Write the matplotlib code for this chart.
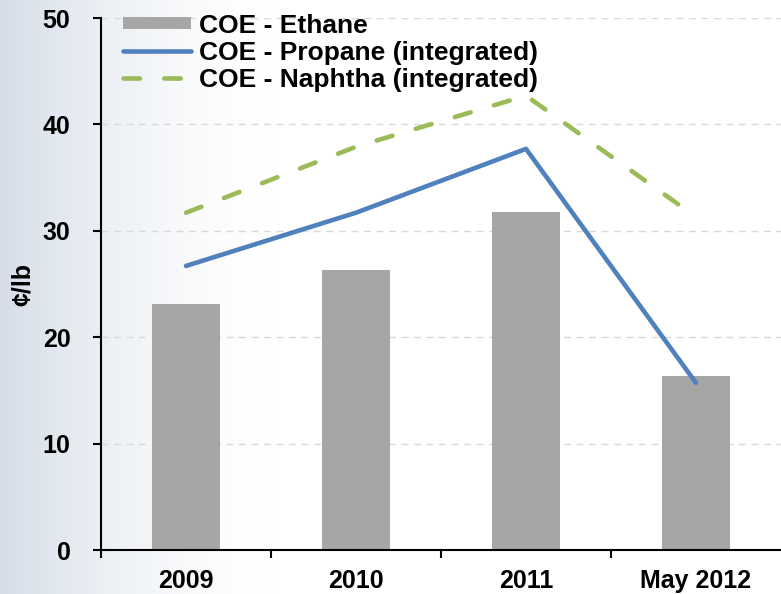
import numpy as np
import matplotlib
matplotlib.use("Agg")
import matplotlib.pyplot as plt
from matplotlib.lines import Line2D

plt.rcParams['font.family'] = ['Liberation Sans', 'DejaVu Sans']
plt.rcParams['font.weight'] = 'bold'

categories = ['2009', '2010', '2011', 'May 2012']
ethane = [23.1, 26.3, 31.8, 16.4]
propane = [26.7, 31.7, 37.7, 15.7]
naphtha = [31.7, 37.9, 42.7, 31.3]

fig = plt.figure(figsize=(7.81, 5.94), dpi=100)

# soft background fading from left
bg = fig.add_axes([0, 0, 1, 1], zorder=-10)
w = np.linspace(0, 1, 400)
fade = np.clip(1 - w / 0.35, 0, 1) ** 1.6
img = np.ones((10, 400, 3))
base = np.array([0.84, 0.87, 0.91])
img[:] = 1 - fade[None, :, None] * (1 - base)[None, None, :]
bg.imshow(img, aspect='auto', extent=[0, 1, 0, 1])
bg.axis('off')

ax = fig.add_axes([101 / 781, 1 - 550 / 594, 1 - 101 / 781, (550 - 18) / 594])
ax.patch.set_alpha(0)

dash = (3.6, 5.3)
x = np.arange(len(categories))
ax.bar(x, ethane, width=0.4, color='#a6a6a6', zorder=2)
ax.plot(x, propane, color='#4f81bd', lw=3.3, solid_capstyle='round', zorder=3)
ax.plot(x, naphtha, color='#9bbb59', lw=3.3, dashes=dash,
        dash_capstyle='round', zorder=3)

ax.set_xlim(-0.5, 3.5)
ax.set_ylim(0, 50)
ax.set_yticks([0, 10, 20, 30, 40, 50])
ax.grid(axis='y', color='#d9d9d9', ls=(0, (5, 4)), lw=1, zorder=0)
ax.set_xticks(x)
ax.set_xticklabels(categories, fontsize=18, fontweight='bold')
ax.set_xticks([-0.5, 0.5, 1.5, 2.5], minor=True)
ax.tick_params(axis='x', which='major', length=0, pad=14)
ax.tick_params(axis='x', which='minor', length=6, width=1.5, direction='out')
ax.tick_params(axis='y', length=6, width=1.5, labelsize=18, pad=16)
for t in ax.get_yticklabels():
    t.set_fontweight('bold')

ax.set_ylabel('¢/lb', fontsize=18, fontweight='bold')
ax.yaxis.set_label_coords(35 / 781, 1 - 284 / 594, transform=fig.transFigure)

for s in ['top', 'right']:
    ax.spines[s].set_visible(False)
for s in ['left', 'bottom']:
    ax.spines[s].set_linewidth(1.5)

handles = [
    Line2D([], [], color='#a6a6a6', lw=8.6, solid_capstyle='butt'),
    Line2D([], [], color='#4f81bd', lw=3.3, solid_capstyle='round'),
    Line2D([], [], color='#9bbb59', lw=3.3, dashes=dash, dash_capstyle='round'),
]
labels = ['COE - Ethane', 'COE - Propane (integrated)', 'COE - Naphtha (integrated)']
leg = ax.legend(handles, labels, loc='upper left',
                bbox_to_anchor=(120 / 781, 1 - 11 / 594),
                bbox_transform=fig.transFigure, frameon=False,
                prop={'size': 19, 'weight': 'bold'}, handlelength=2.6,
                handletextpad=0.3, labelspacing=0.12, borderaxespad=0,
                borderpad=0.1)

fig.savefig('out.png', dpi=100)
